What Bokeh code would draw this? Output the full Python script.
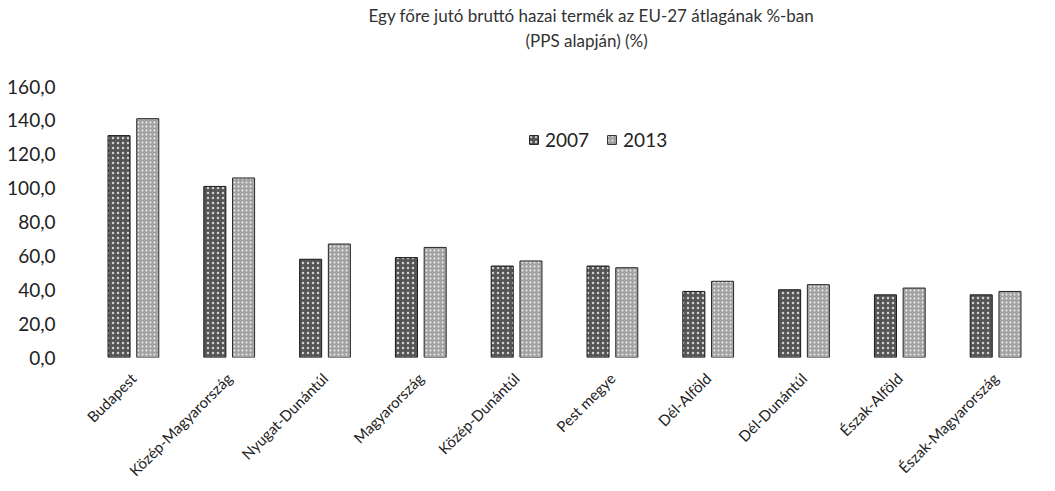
import math
from bokeh.plotting import figure
from bokeh.models import (ColumnDataSource, Legend, LegendItem, Title,
                          CustomJSTickFormatter, FixedTicker, Range1d)
from bokeh.transform import dodge
from bokeh.embed import file_html
from bokeh.resources import INLINE

categories = ["Budapest", "Közép-Magyarország", "Nyugat-Dunántúl", "Magyarország",
              "Közép-Dunántúl", "Pest megye", "Dél-Alföld", "Dél-Dunántúl",
              "Észak-Alföld", "Észak-Magyarország"]
v2007 = [131.0, 101.0, 58.0, 59.0, 54.0, 54.0, 39.0, 40.0, 37.0, 37.0]
v2013 = [141.0, 106.0, 67.0, 65.0, 57.0, 53.0, 45.0, 43.0, 41.0, 39.0]
years = ["2007", "2013"]
y_ticks = [0, 20, 40, 60, 80, 100, 120, 140, 160]
title_lines = ["Egy főre jutó bruttó hazai termék az EU-27 átlagának %-ban",
               "(PPS alapján) (%)"]

FONT = "Lato"
src = ColumnDataSource(dict(cat=categories, y2007=v2007, y2013=v2013))

p = figure(x_range=categories, width=1045, height=488, output_backend="svg",
           toolbar_location=None, min_border_left=85, min_border_right=2,
           min_border_bottom=2, min_border_top=0, background_fill_color="white",
           border_fill_color="white")
p.y_range = Range1d(0, 160)

r1 = p.vbar(x=dodge("cat", -0.15, range=p.x_range), top="y2007", width=0.23,
            source=src, fill_color="#555555", line_color="#1a1a1a", line_width=1,
            hatch_pattern="dot", hatch_color="#d0d0d0", hatch_scale=5, hatch_weight=1.2)
r2 = p.vbar(x=dodge("cat", 0.15, range=p.x_range), top="y2013", width=0.23,
            source=src, fill_color="#a2a2a2", line_color="#262626", line_width=1,
            hatch_pattern="dot", hatch_color="#eeeeee", hatch_scale=4, hatch_weight=1.2)

legend = Legend(items=[LegendItem(label=years[0], renderers=[r1]),
                       LegendItem(label=years[1], renderers=[r2])],
                orientation="horizontal", location=(443, 206),
                border_line_color=None, background_fill_alpha=0,
                label_text_font=FONT, label_text_font_size="19px",
                label_text_color="#222222", glyph_width=11, glyph_height=11,
                spacing=17, label_standoff=6)
p.add_layout(legend, "center")

# spacer between the two-line title and the plot frame
p.add_layout(Title(text=" ", text_font=FONT, text_font_size="17px", standoff=13), "above")
p.add_layout(Title(text=title_lines[1], align="left", offset=440,
                   text_font=FONT, text_font_size="17px", text_font_style="normal",
                   text_color="#333333", standoff=0), "above")
p.add_layout(Title(text=title_lines[0], align="left", offset=283,
                   text_font=FONT, text_font_size="17px", text_font_style="normal",
                   text_color="#333333", standoff=4), "above")

p.xgrid.grid_line_color = None
p.ygrid.grid_line_color = None
p.outline_line_color = None

p.yaxis.ticker = FixedTicker(ticks=y_ticks)
p.yaxis.formatter = CustomJSTickFormatter(code="return tick.toFixed(1).replace('.', ',');")
p.yaxis.axis_line_color = None
p.yaxis.major_tick_line_color = None
p.yaxis.minor_tick_line_color = None
p.yaxis.major_label_text_font = FONT
p.yaxis.major_label_text_font_size = "19px"
p.yaxis.major_label_text_color = "#222222"
p.yaxis.major_label_standoff = 24

p.xaxis.axis_line_color = None
p.xaxis.major_tick_line_color = None
p.xaxis.minor_tick_line_color = None
p.xaxis.major_label_orientation = math.pi / 4
p.xaxis.major_label_text_font = FONT
p.xaxis.major_label_text_font_size = "15px"
p.xaxis.major_label_text_color = "#222222"
p.xaxis.major_label_standoff = 12

open("out.html", "w").write(file_html(p, INLINE))
